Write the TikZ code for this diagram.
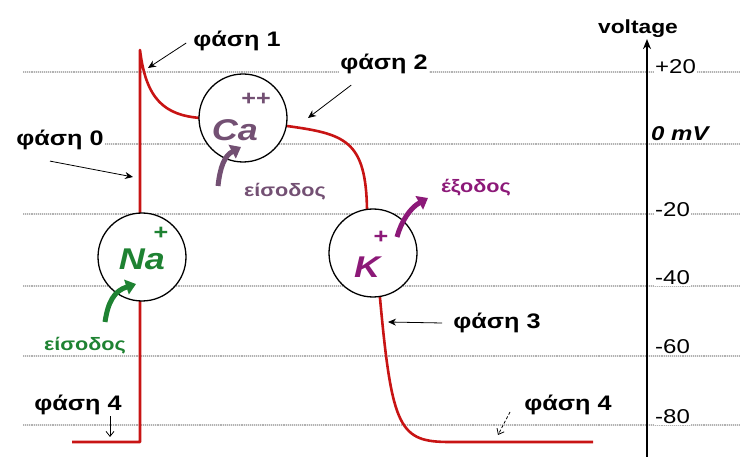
\documentclass[tikz,border=0pt]{standalone}
\usepackage{fontspec}
\setmainfont{Liberation Sans}[FakeStretch=1.2]
\usepackage{xcolor}
\usepackage{tikz}
\usetikzlibrary{arrows.meta, positioning, calc}
\definecolor{apred}{RGB}{200,20,20}
\definecolor{nagreen}{RGB}{30,130,50}
\definecolor{cagray}{RGB}{115,80,115}
\definecolor{kpurple}{RGB}{140,25,120}
\tikzset{
  gridrule/.style={
    densely dotted, gray!60, line width=1.1pt
  },
  gridshade/.style={
    gray!15, line width=1.6pt
  },
  ticklabel/.style={
    anchor=west, font=\fontsize{20}{20}\selectfont, fill=white,
    inner sep=1pt
  },
  phaselabel/.style={
    font=\fontsize{21}{21}\selectfont\bfseries, fill=white, inner sep=1pt
  },
  phasearrow/.style={
    -{Stealth[length=8pt, width=7pt]}, line width=0.8pt
  },
  apcurve/.style={
    apred, line width=2.6pt, line join=round
  },
  ioncircle/.style={
    circle, draw, line width=1.3pt, fill=white, minimum size=88pt,
    inner sep=0pt
  },
  ionname/.style={
    font=\fontsize{30}{30}\selectfont\bfseries\itshape, inner sep=0pt
  },
  ionsign/.style={
    font=\fontsize{21}{21}\selectfont\bfseries, inner sep=0pt
  },
  ionflow/.style={
    line width=5pt, -{Triangle[length=10pt, width=15pt]}
  },
  flowlabel/.style={
    font=\fontsize{18}{18}\selectfont\bfseries, inner sep=1pt
  },
}

\begin{document}
\begin{tikzpicture}[x=1pt, y=-1pt]
  \useasboundingbox (0,0) rectangle (740,457);
  % grid of voltage levels
  \foreach \gy in {72,144,214,286,356,425} {
    \draw[gridshade] (23,\gy) -- (740,\gy);
    \draw[gridrule] (23,\gy) -- (740,\gy);
  }
  % voltage axis
  \coordinate (axbot) at (647,457);
  \node[font=\fontsize{19}{19}\selectfont\bfseries, inner sep=1pt] (volt) at (638,29) {voltage};
  \draw[-{Stealth[length=10pt, width=8pt]}, line width=1.6pt] (axbot) -- (volt.south -| axbot);
  \node[ticklabel] (t20) at (654,67) {+20};
  \node[ticklabel, font=\fontsize{20}{20}\selectfont\bfseries\itshape] (t0) at (650,134) {0 mV};
  \node[ticklabel] (tm20) at (654,210) {-20};
  \node[ticklabel] (tm40) at (654,278) {-40};
  \node[ticklabel] (tm60) at (654,347) {-60};
  \node[ticklabel] (tm80) at (654,417) {-80};
  % action potential
  \draw[apcurve] (72,442) -- (140,442) -- (140,50)
    .. controls (146,100) and (165,115) .. (200,118) -- (287,126)
    .. controls (345,134) and (366,140) .. (367,210) -- (380,298)
    .. controls (392,430) and (400,442) .. (450,442) -- (593,442);
  % ions
  \node[ioncircle] (na) at (142,257) {};
  \node[ionname, text=nagreen] (natext) at (142,259) {Na};
  \node[ionsign, text=nagreen] (naplus) at (161,233) {+};
  \node[ioncircle] (ca) at (243,118) {};
  \node[ionname, text=cagray] (catext) at (235,130) {Ca};
  \node[ionsign, text=cagray] (caplus) at (256,99) {++};
  \node[ioncircle] (k) at (373,253) {};
  \node[ionname, text=kpurple] (ktext) at (367,267) {K};
  \node[ionsign, text=kpurple] (kplus) at (381,237) {+};
  % ion flows
  \coordinate (naflowa) at (105,322);
  \coordinate (naflowb) at (136,284);
  \draw[ionflow, nagreen] (naflowa) .. controls (108,302) and (114,291) .. (naflowb);
  \node[flowlabel, text=nagreen] (nain) at (85,346) {είσοδος};
  \coordinate (caflowa) at (218,186);
  \coordinate (caflowb) at (241,147);
  \draw[ionflow, cagray] (caflowa) .. controls (220,168) and (224,156) .. (caflowb);
  \node[flowlabel, text=cagray] (cain) at (285,192) {είσοδος};
  \coordinate (kflowa) at (397,237);
  \coordinate (kflowb) at (428,198);
  \draw[ionflow, kpurple] (kflowa) .. controls (401,222) and (410,208) .. (kflowb);
  \node[flowlabel, text=kpurple] (kout) at (476,188) {έξοδος};
  % phases
  \node[phaselabel] (ph1) at (237,41) {φάση 1};
  \coordinate (ph1tip) at (148,68);
  \draw[phasearrow] (ph1.west) ++(-6,2) -- (ph1tip);
  \node[phaselabel] (ph0) at (60,140) {φάση 0};
  \coordinate (ph0tip) at (133,177);
  \draw[phasearrow] ($(ph0.south)+(-10,10)$) -- (ph0tip);
  \node[phaselabel] (ph2) at (384,64) {φάση 2};
  \coordinate (ph2tip) at (308,118);
  \draw[phasearrow] ($(ph2.south west)+(12,10)$) -- (ph2tip);
  \node[phaselabel] (ph3) at (497,323) {φάση 3};
  \coordinate (ph3tip) at (388,322);
  \draw[phasearrow] ($(ph3.west)+(-10,0)$) -- (ph3tip);
  \node[phaselabel] (ph4a) at (78,405) {φάση 4};
  \coordinate (ph4atip) at (110,437);
  \draw[-{Straight Barb[length=5pt, width=8pt]}, line width=0.8pt] (ph4atip |- ph4a.south) -- (ph4atip);
  \node[phaselabel] (ph4b) at (568,405) {φάση 4};
  \coordinate (ph4btip) at (498,435);
  \draw[-{Straight Barb[length=5pt, width=8pt]}, line width=0.8pt, densely dashed] (510,412) -- (ph4btip);
\end{tikzpicture}
\end{document}
